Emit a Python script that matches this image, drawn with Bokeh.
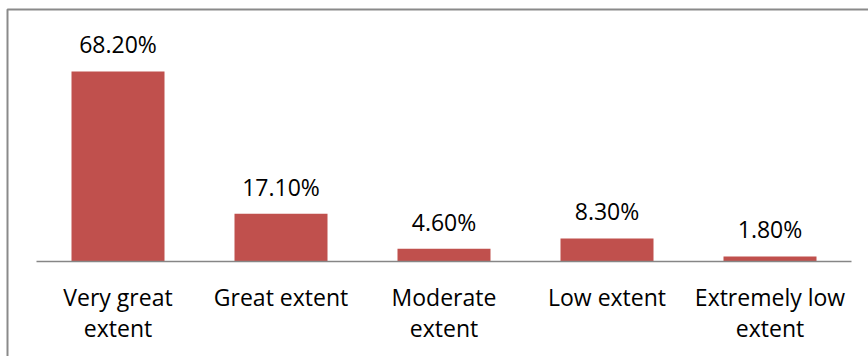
from bokeh.plotting import figure
from bokeh.models import Range1d, ColumnDataSource, BoxAnnotation
from bokeh.core.properties import value
from bokeh.embed import file_html
from bokeh.resources import INLINE

categories = ["Very great\nextent", "Great extent", "Moderate\nextent", "Low extent", "Extremely low\nextent"]
values = [68.2, 17.1, 4.6, 8.3, 1.8]
value_labels = ["68.20%", "17.10%", "4.60%", "8.30%", "1.80%"]

n = len(categories)
xs = [i + 0.5 for i in range(n)]
line1 = [c.split("\n")[0] for c in categories]
line2 = [c.split("\n")[1] if "\n" in c else "" for c in categories]

W, H = 868, 356
unit_px = 163.0      # width of one category slot in pixels
px_per_val = 2.786   # pixels per percentage point
axis_px = 261        # pixel row of the category axis
x0_px = 36           # pixel column where the category axis starts

x_start = -x0_px / unit_px
y_end = axis_px / px_per_val
src = ColumnDataSource(dict(x=xs, top=values, lab=value_labels, l1=line1, l2=line2, zero=[0] * n))

p = figure(width=W, height=H, output_backend="svg", toolbar_location=None,
           x_range=Range1d(x_start, (W - x0_px) / unit_px),
           y_range=Range1d(-(H - axis_px) / px_per_val, y_end),
           min_border=0, min_border_left=0, min_border_right=0,
           min_border_top=0, min_border_bottom=0)
p.axis.visible = False
p.grid.visible = False
p.outline_line_color = None
p.background_fill_color = "white"
p.border_fill_color = "white"

p.vbar(x="x", top="top", bottom=0, width=93 / unit_px, source=src,
       fill_color="#C0504D", line_color=None)

# category axis line
p.segment(x0=[0], x1=[n], y0=[0], y1=[0], line_color="#868686", line_width=1.5)

font = value("Open Sans")
p.text(x="x", y="top", text="lab", source=src, text_font=font, text_font_size="23px",
       text_align="center", text_baseline="alphabetic", y_offset=-27, text_color="#000000")
p.text(x="x", y="zero", text="l1", source=src, text_font=font, text_font_size="23px",
       text_align="center", text_baseline="alphabetic", y_offset=35, text_color="#000000")
p.text(x="x", y="zero", text="l2", source=src, text_font=font, text_font_size="23px",
       text_align="center", text_baseline="alphabetic", y_offset=66, text_color="#000000")

# chart border: left and top edges visible, right/bottom beyond the picture
p.add_layout(BoxAnnotation(left=x_start + 7 / unit_px, right=100,
                           top=y_end - 9 / px_per_val, bottom=-1000,
                           fill_alpha=0, line_color="#8A8A8A", line_alpha=1.0,
                           line_width=2))

open("out.html", "w").write(file_html(p, INLINE))
